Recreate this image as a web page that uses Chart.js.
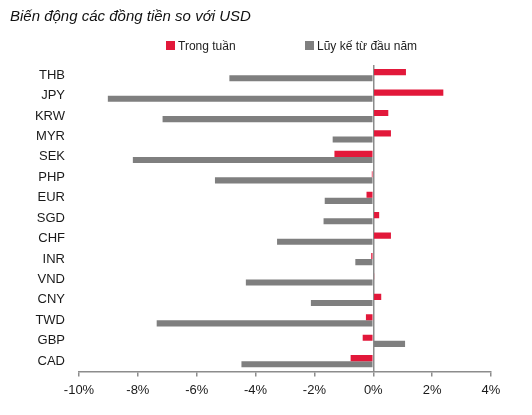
<!DOCTYPE html>
<html>
<head>
<meta charset="utf-8">
<script src="https://cdn.jsdelivr.net/npm/chart.js@4"></script>
<style>
  body { margin: 0; background: #fff; }
  #wrap { position: relative; width: 532px; height: 415px; }
  .lg { position: absolute; top: 38px; font: 12px "Liberation Sans", sans-serif; color: #222; line-height: 16px; white-space: nowrap; }
  .lg i { display: inline-block; width: 9px; height: 9px; margin-right: 3px; }
</style>
</head>
<body>
<div id="wrap">
  <canvas id="myChart"></canvas>
  <div class="lg" style="left:166px"><i style="background:#E2183A"></i>Trong tuần</div>
  <div class="lg" style="left:305px"><i style="background:#7F7F7F"></i>Lũy kế từ đầu năm</div>
</div>
<script>
    // du lieu doc tu hinh
    const labels = ['THB', 'JPY', 'KRW', 'MYR', 'SEK', 'PHP', 'EUR', 'SGD', 'CHF', 'INR', 'VND', 'CNY', 'TWD', 'GBP', 'CAD'];
    const trongTuan = [1.11, 2.38, 0.51, 0.60, -1.32, -0.05, -0.23, 0.20, 0.60, -0.07, 0.03, 0.27, -0.25, -0.36, -0.77];
    const luyKe = [-4.89, -9.02, -7.16, -1.38, -8.17, -5.38, -1.65, -1.69, -3.27, -0.61, -4.33, -2.12, -7.36, 1.08, -4.48];

    const fontFam = '"Liberation Sans", sans-serif';

    const ctx = document.getElementById('myChart').getContext('2d');
    new Chart(ctx, {
        type: 'bar',
        data: {
            labels: labels,
            datasets: [
                {
                    label: 'Trong tuần',
                    data: trongTuan,
                    backgroundColor: '#E2183A',
                    categoryPercentage: 0.6,
                    barPercentage: 1.0
                },
                {
                    label: 'Lũy kế từ đầu năm',
                    data: luyKe,
                    backgroundColor: '#7F7F7F',
                    categoryPercentage: 0.6,
                    barPercentage: 1.0
                }
            ]
        },
        options: {
            indexAxis: 'y',
            responsive: true,
            maintainAspectRatio: false,
            animation: false,
            layout: { padding: { left: 10, right: 41, top: 0, bottom: 11 } },
            plugins: {
                legend: { display: false },
                tooltip: { enabled: false },
                title: {
                    display: true,
                    text: 'Biến động các đồng tiền so với USD',
                    align: 'start',
                    color: '#111',
                    font: { family: fontFam, size: 15, style: 'italic', weight: 'normal' },
                    padding: { top: 8, bottom: 39 }
                }
            },
            scales: {
                x: {
                    min: -10,
                    max: 4,
                    ticks: {
                        stepSize: 2,
                        color: '#1a1a1a',
                        padding: 6,
                        font: { family: fontFam, size: 13 },
                        callback: v => v + '%'
                    },
                    grid: {
                        color: c => (c.tick && c.tick.value === 0) ? '#8C8C8C' : 'rgba(0,0,0,0)',
                        tickColor: '#8C8C8C',
                        tickLength: 5,
                        lineWidth: 1.5
                    },
                    border: { display: true, color: '#8C8C8C', width: 1.5 }
                },
                y: {
                    grid: { display: false, drawTicks: false },
                    border: { display: false },
                    ticks: {
                        color: '#1a1a1a',
                        padding: 14,
                        font: { family: fontFam, size: 13 }
                    },
                    afterFit: scale => { scale.width = 69; }
                }
            }
        }
    });
</script>
</body>
</html>
